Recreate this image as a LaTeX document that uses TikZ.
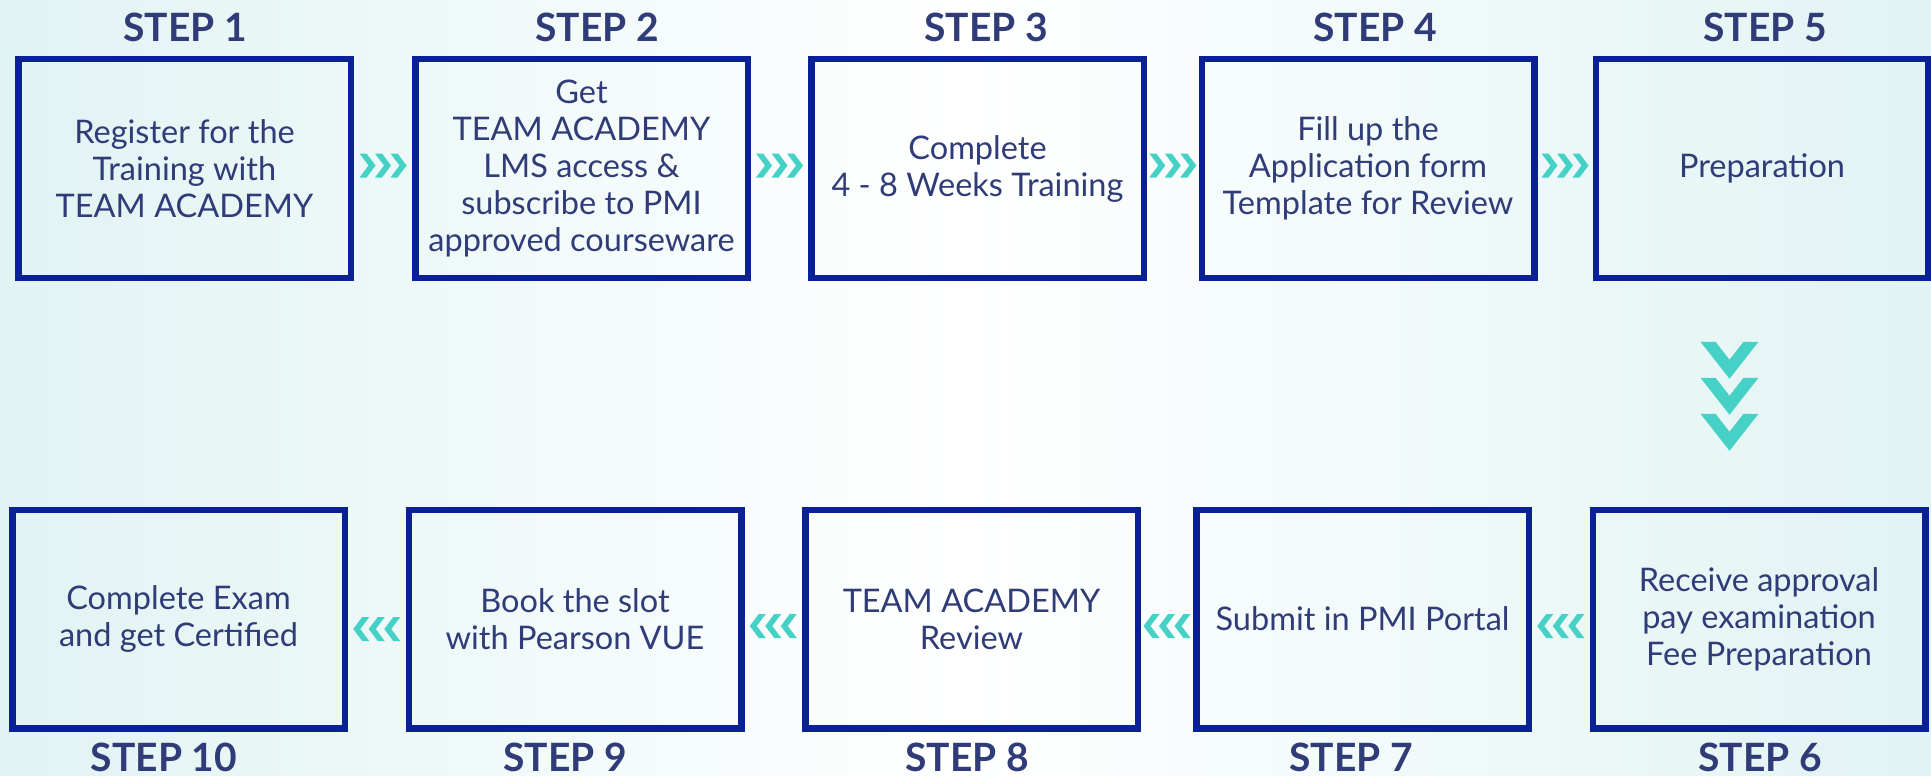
\documentclass[tikz,border=0pt]{standalone}
\usepackage{fontspec}
\setmainfont{Lato}
\usepackage{tikz}

\definecolor{boxblue}{HTML}{0A2196}
\definecolor{textblue}{HTML}{2F3C78}
\definecolor{arrowteal}{HTML}{45D1C6}
\definecolor{bgteal}{HTML}{E1F3F3}

\tikzset{
	stepbox/.style={draw=boxblue, line width=6.5pt, minimum width=332.5pt, minimum height=218.5pt,
		inner sep=0pt, align=center, text=textblue, font=\fontsize{32.5}{37}\selectfont},
	steplabel/.style={anchor=base, inner sep=2pt, text=textblue, font=\fontsize{39}{42}\selectfont\bfseries},
	chevright/.pic={
		\fill[arrowteal] (-23.5,-12) -- (-16.5,-12) -- (-7.5,0) -- (-16.5,12) -- (-23.5,12) -- (-14.5,0) -- cycle;
		\fill[arrowteal] (-8,-12) -- (-1,-12) -- (8,0) -- (-1,12) -- (-8,12) -- (1,0) -- cycle;
		\fill[arrowteal] (7.5,-12) -- (14.5,-12) -- (23.5,0) -- (14.5,12) -- (7.5,12) -- (16.5,0) -- cycle;
	},
	chevleft/.pic={
		\fill[arrowteal] (23.5,-12) -- (16.5,-12) -- (7.5,0) -- (16.5,12) -- (23.5,12) -- (14.5,0) -- cycle;
		\fill[arrowteal] (8,-12) -- (1,-12) -- (-8,0) -- (1,12) -- (8,12) -- (-1,0) -- cycle;
		\fill[arrowteal] (-7.5,-12) -- (-14.5,-12) -- (-23.5,0) -- (-14.5,12) -- (-7.5,12) -- (-16.5,0) -- cycle;
	},
	chevdown/.pic={
		\fill[arrowteal] (-29,-55) -- (-14,-55) -- (0,-37) -- (14,-55) -- (29,-55) -- (0,-18) -- cycle;
		\fill[arrowteal] (-29,-19) -- (-14,-19) -- (0,-1) -- (14,-19) -- (29,-19) -- (0,18) -- cycle;
		\fill[arrowteal] (-29,17) -- (-14,17) -- (0,35) -- (14,17) -- (29,17) -- (0,54) -- cycle;
	}
}

\begin{document}
\begin{tikzpicture}[x=1pt, y=-1pt]

	\useasboundingbox (0,0) rectangle (1931,776);
	\shade[left color=bgteal, right color=bgteal, middle color=white] (0,0) rectangle (1931,776);

	\node[stepbox] (s1) at (184.5,168.5) {Register for the\\Training with\\TEAM ACADEMY};
	\node[stepbox] (s2) at (581.5,168.5) {Get\\TEAM ACADEMY\\LMS access \&\\subscribe to PMI\\approved courseware};
	\node[stepbox] (s3) at (977.5,168.5) {Complete\\4 - 8 Weeks Training};
	\node[stepbox] (s4) at (1368,168.5) {Fill up the\\Application form\\Template for Review};
	\node[stepbox] (s5) at (1762,168.5) {Preparation};

	\node[stepbox] (s6) at (1759,619) {Receive approval\\pay examination\\Fee Preparation};
	\node[stepbox] (s7) at (1362.5,619) {Submit in PMI Portal};
	\node[stepbox] (s8) at (971.5,619) {TEAM ACADEMY\\Review};
	\node[stepbox] (s9) at (575,619) {Book the slot\\with Pearson VUE};
	\node[stepbox] (s10) at (178.5,619) {Complete Exam\\and get Certified};

	\node[steplabel] (l1) at (185,42) {STEP 1};
	\node[steplabel] (l2) at (597,42) {STEP 2};
	\node[steplabel] (l3) at (986,42) {STEP 3};
	\node[steplabel] (l4) at (1375,42) {STEP 4};
	\node[steplabel] (l5) at (1765,42) {STEP 5};
	\node[steplabel] (l6) at (1760,771) {STEP 6};
	\node[steplabel] (l7) at (1351,771) {STEP 7};
	\node[steplabel] (l8) at (967,771) {STEP 8};
	\node[steplabel] (l9) at (565,771) {STEP 9};
	\node[steplabel] (l10) at (164,771) {STEP 10};

	\path (s1) -- (s2) pic[pos=.5, yshift=3pt] {chevright};
	\path (s2) -- (s3) pic[pos=.5, yshift=3pt] {chevright};
	\path (s3) -- (s4) pic[pos=.5, yshift=3pt] {chevright};
	\path (s4) -- (s5) pic[pos=.5, yshift=3pt] {chevright};
	\path (s5) -- (s6) pic[pos=.5, xshift=-31pt, yshift=-3pt] {chevdown};
	\path (s6) -- (s7) pic[pos=.5, yshift=-7pt] {chevleft};
	\path (s7) -- (s8) pic[pos=.5, yshift=-7pt] {chevleft};
	\path (s8) -- (s9) pic[pos=.5, yshift=-7pt] {chevleft};
	\path (s9) -- (s10) pic[pos=.5, yshift=-10pt] {chevleft};

\end{tikzpicture}
\end{document}
